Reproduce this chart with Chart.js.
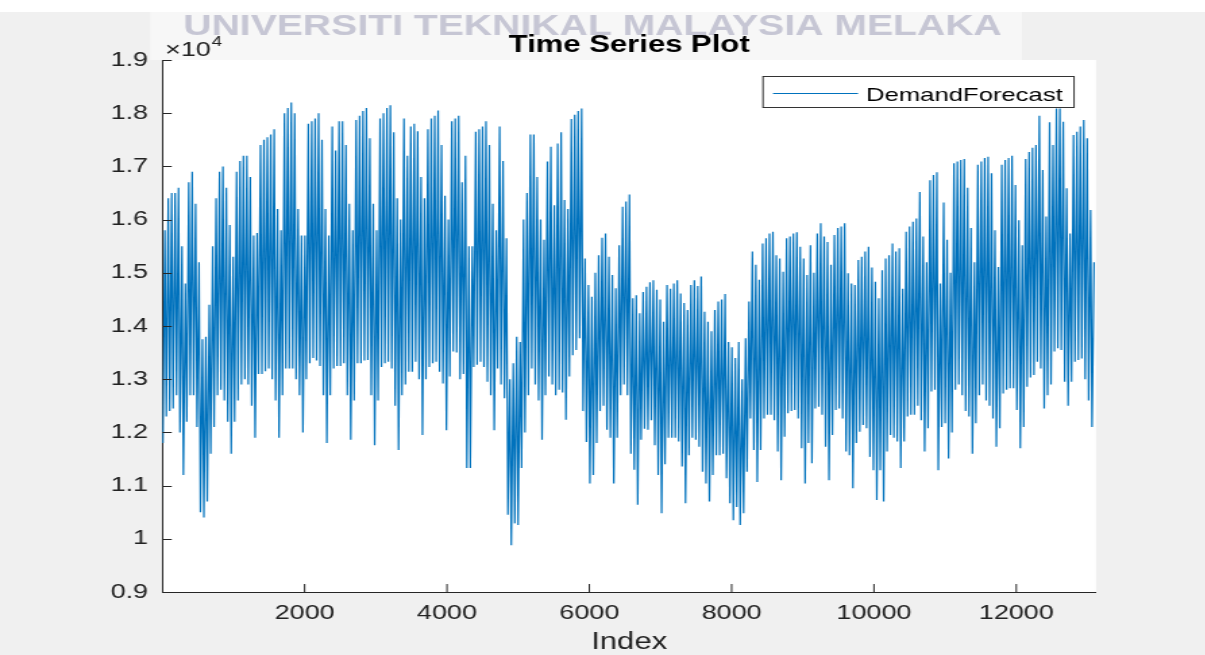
<!DOCTYPE html>
<html>
<head>
<meta charset="utf-8">
<script src="https://cdn.jsdelivr.net/npm/chart.js@4.4.0/dist/chart.umd.min.js"></script>
<style>
  html, body { margin: 0; padding: 0; background: #f0f0f0; overflow: hidden; }
  #wrap { width: 1205px; height: 655px; overflow: hidden; }
  #plot { display: block; width: 893px; height: 655px; transform: scaleX(1.35); transform-origin: 0 0; }
</style>
</head>
<body>
<div id="wrap"><canvas id="plot" width="893" height="655"></canvas></div>
<script>
// values, in units of 10^4
const SCALE = 1e4;
const PER_DAY = 48;        // half-hourly samples
const LOW_SLOT = 8;        // night minimum inside a day
const HIGH_SLOT = 36;      // daily peak inside a day
const X_MAX = 13120;

const xTicks = [2000, 4000, 6000, 8000, 10000, 12000];
const yTicks = [0.9, 1.0, 1.1, 1.2, 1.3, 1.4, 1.5, 1.6, 1.7, 1.8, 1.9];

// daily peaks, one row per week (first row is a partial week)
const dayHigh = [
  1.58, 1.64, 1.65, 1.65, 1.66, 1.55,
  1.48, 1.67, 1.69, 1.63, 1.52, 1.375, 1.38,
  1.44, 1.55, 1.64, 1.69, 1.70, 1.66, 1.59,
  1.53, 1.69, 1.71, 1.72, 1.72, 1.68, 1.57,
  1.575, 1.74, 1.75, 1.755, 1.76, 1.77, 1.62,
  1.58, 1.80, 1.81, 1.82, 1.80, 1.62, 1.57,
  1.57, 1.78, 1.785, 1.79, 1.80, 1.75, 1.62,
  1.57, 1.775, 1.73, 1.785, 1.785, 1.74, 1.63,
  1.58, 1.787, 1.795, 1.804, 1.81, 1.753, 1.63,
  1.58, 1.79, 1.80, 1.81, 1.815, 1.764, 1.64,
  1.60, 1.79, 1.72, 1.775, 1.78, 1.766, 1.68,
  1.64, 1.77, 1.79, 1.795, 1.805, 1.74, 1.645,
  1.60, 1.785, 1.79, 1.795, 1.67, 1.72, 1.55,
  1.55, 1.765, 1.77, 1.775, 1.785, 1.74, 1.63,
  1.58, 1.775, 1.71, 1.565, 1.30, 1.33, 1.38,
  1.37, 1.60, 1.65, 1.76, 1.76, 1.68, 1.60,
  1.562, 1.709, 1.737, 1.627, 1.743, 1.764, 1.637,
  1.62, 1.789, 1.797, 1.804, 1.809, 1.527, 1.477,
  1.455, 1.50, 1.533, 1.566, 1.574, 1.53, 1.496,
  1.471, 1.552, 1.624, 1.634, 1.647, 1.452, 1.458,
  1.424, 1.464, 1.474, 1.482, 1.486, 1.468, 1.45,
  1.408, 1.477, 1.47, 1.48, 1.486, 1.461, 1.443,
  1.43, 1.477, 1.486, 1.475, 1.493, 1.427, 1.408,
  1.39, 1.43, 1.446, 1.45, 1.46, 1.37, 1.36,
  1.34, 1.37, 1.30, 1.377, 1.446, 1.54, 1.515,
  1.487, 1.555, 1.565, 1.574, 1.577, 1.533, 1.527,
  1.502, 1.565, 1.568, 1.574, 1.576, 1.549, 1.527,
  1.496, 1.552, 1.50, 1.574, 1.593, 1.568, 1.558,
  1.515, 1.571, 1.584, 1.587, 1.593, 1.499, 1.48,
  1.477, 1.524, 1.53, 1.54, 1.549, 1.51, 1.483,
  1.452, 1.505, 1.527, 1.533, 1.555, 1.54, 1.546,
  1.47, 1.577, 1.587, 1.596, 1.602, 1.652, 1.568,
  1.52, 1.674, 1.684, 1.689, 1.48, 1.632, 1.562,
  1.50, 1.706, 1.709, 1.712, 1.714, 1.66, 1.584,
  1.52, 1.703, 1.709, 1.716, 1.718, 1.687, 1.58,
  1.511, 1.703, 1.712, 1.716, 1.72, 1.665, 1.599,
  1.552, 1.714, 1.727, 1.735, 1.74, 1.795, 1.693,
  1.606, 1.783, 1.74, 1.809, 1.809, 1.784, 1.659,
  1.574, 1.759, 1.765, 1.775, 1.787, 1.753, 1.618,
  1.52
];

// daily minima, same layout
const dayLow = [
  1.18, 1.23, 1.24, 1.245, 1.27, 1.20,
  1.12, 1.22, 1.27, 1.27, 1.21, 1.05, 1.04,
  1.07, 1.16, 1.21, 1.27, 1.28, 1.26, 1.22,
  1.16, 1.22, 1.26, 1.29, 1.30, 1.29, 1.25,
  1.19, 1.31, 1.31, 1.315, 1.32, 1.30, 1.26,
  1.19, 1.27, 1.32, 1.32, 1.32, 1.30, 1.27,
  1.20, 1.30, 1.33, 1.34, 1.335, 1.325, 1.27,
  1.18, 1.27, 1.32, 1.325, 1.325, 1.33, 1.27,
  1.186, 1.26, 1.33, 1.33, 1.335, 1.336, 1.27,
  1.176, 1.26, 1.323, 1.33, 1.333, 1.32, 1.25,
  1.167, 1.27, 1.29, 1.314, 1.314, 1.333, 1.30,
  1.195, 1.30, 1.323, 1.33, 1.333, 1.314, 1.292,
  1.204, 1.305, 1.352, 1.35, 1.30, 1.31, 1.133,
  1.133, 1.323, 1.327, 1.333, 1.323, 1.295, 1.27,
  1.204, 1.32, 1.29, 1.264, 1.045, 0.988, 1.029,
  1.026, 1.133, 1.20, 1.27, 1.32, 1.29, 1.26,
  1.186, 1.27, 1.305, 1.29, 1.27, 1.28, 1.275,
  1.224, 1.305, 1.345, 1.355, 1.377, 1.24, 1.182,
  1.104, 1.12, 1.18, 1.24, 1.25, 1.205, 1.19,
  1.104, 1.19, 1.27, 1.29, 1.27, 1.16, 1.13,
  1.064, 1.186, 1.207, 1.205, 1.223, 1.176, 1.12,
  1.048, 1.14, 1.19, 1.19, 1.19, 1.183, 1.136,
  1.067, 1.157, 1.19, 1.186, 1.173, 1.126, 1.104,
  1.07, 1.12, 1.157, 1.157, 1.16, 1.114, 1.067,
  1.035, 1.06, 1.026, 1.048, 1.126, 1.226, 1.167,
  1.107, 1.167, 1.226, 1.233, 1.233, 1.223, 1.164,
  1.11, 1.192, 1.236, 1.24, 1.242, 1.226, 1.17,
  1.104, 1.18, 1.142, 1.245, 1.248, 1.233, 1.173,
  1.11, 1.195, 1.242, 1.245, 1.226, 1.164, 1.157,
  1.095, 1.18, 1.201, 1.214, 1.208, 1.154, 1.129,
  1.073, 1.129, 1.07, 1.164, 1.195, 1.19, 1.183,
  1.133, 1.183, 1.23, 1.233, 1.233, 1.25, 1.223,
  1.164, 1.208, 1.277, 1.28, 1.129, 1.21, 1.217,
  1.151, 1.20, 1.28, 1.29, 1.27, 1.24, 1.23,
  1.16, 1.217, 1.27, 1.29, 1.26, 1.25, 1.226,
  1.173, 1.208, 1.273, 1.28, 1.283, 1.283, 1.242,
  1.17, 1.21, 1.286, 1.303, 1.308, 1.333, 1.32,
  1.245, 1.27, 1.29, 1.352, 1.358, 1.355, 1.295,
  1.25, 1.295, 1.333, 1.336, 1.339, 1.30, 1.26,
  1.21
];

const points = [];
dayLow.forEach((lo, d) => {
  points.push({ x: d * PER_DAY + LOW_SLOT, y: lo * SCALE });
  points.push({ x: d * PER_DAY + HIGH_SLOT, y: dayHigh[d] * SCALE });
});

// the figure is stretched sideways, so the canvas is drawn narrow and scaled
const SX = 1.35;
const px = v => v / SX;
const FONT = "'Liberation Sans', Arial, sans-serif";
const LINE = "#0072BD";
const AXIS = "#262626";

const decor = {
  id: "decor",
  beforeDraw(chart) {
    const { ctx, width, height, chartArea: a } = chart;
    ctx.save();
    ctx.fillStyle = "#f0f0f0";
    ctx.fillRect(0, 0, width, height);
    ctx.fillStyle = "#ffffff";
    ctx.fillRect(0, 0, width, 12);
    ctx.fillStyle = "#f7f7f7";
    ctx.fillRect(px(150), 12, px(1022) - px(150), 48);

    ctx.fillStyle = "rgb(198,198,212)";
    ctx.font = "bold 29px " + FONT;
    ctx.textAlign = "center";
    ctx.textBaseline = "alphabetic";
    ctx.fillText("UNIVERSITI TEKNIKAL MALAYSIA MELAKA", px(592.5), 35);

    ctx.fillStyle = "#ffffff";
    ctx.fillRect(a.left, a.top, a.right - a.left, a.bottom - a.top);

    ctx.fillStyle = "#000000";
    ctx.font = "bold 23px " + FONT;
    ctx.fillText("Time Series Plot", (a.left + a.right) / 2, 52);
    ctx.restore();
  },
  afterDatasetsDraw(chart) {
    const { ctx, chartArea: a, scales } = chart;
    ctx.save();
    ctx.strokeStyle = AXIS;
    ctx.lineWidth = 1;
    ctx.beginPath();
    yTicks.forEach(t => {
      const y = Math.round(scales.y.getPixelForValue(Math.round(t * SCALE))) + 0.5;
      ctx.moveTo(a.left, y);
      ctx.lineTo(a.left + 7, y);
    });
    xTicks.forEach(t => {
      const x = scales.x.getPixelForValue(t);
      ctx.moveTo(x, a.bottom);
      ctx.lineTo(x, a.bottom - 8);
    });
    ctx.stroke();

    // exponent label
    ctx.fillStyle = "#222";
    ctx.textAlign = "left";
    ctx.textBaseline = "alphabetic";
    ctx.font = "20px " + FONT;
    ctx.fillText("\u00d710", px(165), 56);
    const w = ctx.measureText("\u00d710").width;
    ctx.font = "14px " + FONT;
    ctx.fillText("4", px(165) + w + 0.5, 46);

    // legend
    const lx = px(763), lw = px(1074) - px(763), ly = 76.5, lh = 31;
    ctx.fillStyle = "#ffffff";
    ctx.fillRect(lx, ly, lw, lh);
    ctx.strokeStyle = "#333";
    ctx.strokeRect(lx, ly, lw, lh);
    ctx.strokeStyle = LINE;
    ctx.beginPath();
    ctx.moveTo(px(773), 93.5);
    ctx.lineTo(px(858), 93.5);
    ctx.stroke();
    ctx.fillStyle = "#000";
    ctx.font = "19px " + FONT;
    ctx.fillText("DemandForecast", px(866), 100.5);
    ctx.restore();
  }
};

new Chart(document.getElementById("plot"), {
  type: "line",
  data: {
    datasets: [{
      label: "DemandForecast",
      data: points,
      borderColor: LINE,
      borderWidth: 1.2,
      pointRadius: 0,
      tension: 0,
      fill: false
    }]
  },
  options: {
    responsive: false,
    animation: false,
    devicePixelRatio: 1,
    parsing: false,
    normalized: true,
    layout: { padding: { left: 0, right: 893 - px(1096), top: 60, bottom: 0 } },
    plugins: { legend: { display: false }, tooltip: { enabled: false } },
    scales: {
      x: {
        type: "linear",
        min: 0,
        max: X_MAX,
        afterFit: s => { s.height = 655 - 592; },
        afterBuildTicks: s => { s.ticks = xTicks.map(v => ({ value: v })); },
        grid: { display: false, drawTicks: false },
        border: { display: true, color: AXIS, width: 1 },
        ticks: {
          padding: 9,
          maxRotation: 0,
          autoSkip: false,
          color: "#222",
          font: { family: FONT, size: 20 },
          callback: v => String(v)
        },
        title: {
          display: true,
          text: "Index",
          color: "#222",
          font: { family: FONT, size: 23, lineHeight: 1 },
          padding: { top: 0, bottom: 0.5 }
        }
      },
      y: {
        min: 0.9 * SCALE,
        max: 1.9 * SCALE,
        afterFit: s => { s.width = px(162.3); },
        afterBuildTicks: s => { s.ticks = yTicks.map(t => ({ value: Math.round(t * SCALE) })); },
        grid: { display: false, drawTicks: false },
        border: { display: true, color: AXIS, width: 1 },
        ticks: {
          padding: 10.5,
          autoSkip: false,
          color: "#222",
          font: { family: FONT, size: 20 },
          callback: v => String(+(v / SCALE).toFixed(1))
        }
      }
    }
  },
  plugins: [decor]
});
</script>
</body>
</html>
